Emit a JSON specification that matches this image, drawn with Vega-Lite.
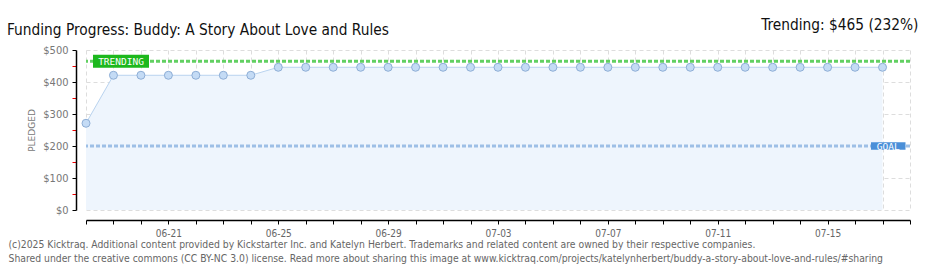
{
  "$schema": "https://vega.github.io/schema/vega-lite/v6.json",
  "width": 824,
  "height": 160,
  "autosize": {"type": "none"},
  "padding": {"left": 86, "top": 50, "right": 30, "bottom": 60},
  "background": "#ffffff",
  "title": {
    "text": "Funding Progress: Buddy: A Story About Love and Rules",
    "anchor": "start",
    "frame": "group",
    "dx": -79,
    "dy": 25,
    "font": "DejaVu Sans Condensed",
    "fontSize": 15.3,
    "fontWeight": "normal",
    "color": "#111111"
  },
  "config": {
    "view": {"stroke": null},
    "font": "DejaVu Sans Condensed"
  },
  "resolve": {"axis": {"y": "independent"}},
  "layer": [
    {
      "data": {"name": "pledges"},
      "mark": {"type": "area", "color": "#eef5fd", "opacity": 1},
      "encoding": {
        "x": {
          "field": "date", "type": "temporal",
          "scale": {"type": "utc", "domain": [{"year": 2025, "month": "June", "date": 18, "utc": true}, {"year": 2025, "month": "July", "date": 18, "utc": true}]},
          "axis": {
            "orient": "bottom", "offset": 10,
            "tickCount": {"interval": "day", "step": 1},
            "labelExpr": "indexof([3,7,11,15,21,25,29], utcdate(datum.value)) >= 0 ? utcFormat(datum.value, '%m-%d') : ''",
            "labelFont": "DejaVu Sans Condensed", "labelFontSize": 10, "labelColor": "#666666",
            "labelPadding": 4, "labelOverlap": false,
            "domainColor": "#000000", "domainWidth": 1.5, "tickColor": "#000000", "tickSize": 4,
            "grid": true, "gridColor": "#dddddd", "gridDash": [4, 3],
            "title": ["(c)2025 Kicktraq. Additional content provided by Kickstarter Inc. and Katelyn Herbert. Trademarks and related content are owned by their respective companies.", "Shared under the creative commons (CC BY-NC 3.0) license. Read more about sharing this image at www.kicktraq.com/projects/katelynherbert/buddy-a-story-about-love-and-rules/#sharing"],
            "titleAnchor": "start", "titleAlign": "left", "titleBaseline": "alphabetic",
            "titleX": -78, "titleY": 27, "titleLineHeight": 14,
            "titleFont": "DejaVu Sans Condensed", "titleFontSize": 10.3, "titleFontWeight": "normal", "titleColor": "#666666"
          }
        },
        "y": {
          "field": "pledged", "type": "quantitative",
          "scale": {"domain": [0, 500], "nice": false},
          "axis": {
            "orient": "left", "offset": 10,
            "values": [0, 50, 100, 150, 200, 250, 300, 350, 400, 450, 500],
            "labelExpr": "datum.value % 100 === 0 ? '$' + datum.value : ''",
            "labelFont": "DejaVu Sans Condensed", "labelFontSize": 11, "labelColor": "#777777", "labelPadding": 4,
            "domainColor": "#000000", "domainWidth": 1.5, "tickSize": 4,
            "tickColor": {"condition": {"test": "datum.value % 100 !== 0", "value": "#ee0000"}, "value": "#000000"},
            "grid": true, "gridColor": "#dddddd", "gridDash": [4, 3],
            "gridOpacity": {"condition": {"test": "datum.value % 100 !== 0", "value": 0}, "value": 1},
            "title": "PLEDGED", "titleFont": "DejaVu Sans", "titleFontSize": 9, "titleFontWeight": "normal", "titleColor": "#777777", "titlePadding": 6
          }
        }
      }
    },
    {
      "data": {"name": "pledges"},
      "mark": {"type": "line", "color": "#b9d3ef", "strokeWidth": 1},
      "encoding": {
        "x": {"field": "date", "type": "temporal"},
        "y": {"field": "pledged", "type": "quantitative", "axis": null}
      }
    },
    {
      "data": {"name": "pledges"},
      "mark": {"type": "point", "filled": true, "shape": "circle", "size": 64, "fill": "#c4dbf5", "stroke": "#8eaed6", "strokeWidth": 1, "opacity": 1},
      "encoding": {
        "x": {"field": "date", "type": "temporal"},
        "y": {"field": "pledged", "type": "quantitative", "axis": null}
      }
    },
    {
      "data": {"values": [{"goal": 200}]},
      "mark": {"type": "rule", "color": "#9dbfe6", "strokeWidth": 3, "strokeDash": [4, 2]},
      "encoding": {
        "y": {"field": "goal", "type": "quantitative", "axis": null}
      }
    },
    {
      "data": {"values": [{"trending": 465}]},
      "mark": {"type": "rule", "color": "#62d062", "strokeWidth": 3, "strokeDash": [4, 2]},
      "encoding": {
        "y": {
          "field": "trending", "type": "quantitative",
          "axis": {
            "orient": "right", "domain": false, "ticks": false, "labels": false, "grid": false,
            "title": "Trending: $465 (232%)", "titleAngle": 0, "titleAlign": "right", "titleBaseline": "alphabetic",
            "titleX": 8, "titleY": -21,
            "titleFont": "DejaVu Sans Condensed", "titleFontSize": 15.3, "titleFontWeight": "normal", "titleColor": "#111111"
          }
        }
      }
    },
    {
      "data": {"name": "labels"},
      "mark": {"type": "point", "filled": true, "opacity": 1, "strokeWidth": 0},
      "encoding": {
        "x": {"field": "date", "type": "temporal"},
        "y": {"field": "value", "type": "quantitative", "axis": null},
        "shape": {"field": "label", "type": "nominal", "scale": {"domain": ["TRENDING", "GOAL"], "range": ["M-1,-0.232L1,-0.232L1,0.232L-1,0.232Z", "M-1,-0.22L1,-0.22L1,0.22L-1,0.22Z"]}, "legend": null},
        "size": {"field": "label", "type": "nominal", "scale": {"domain": ["TRENDING", "GOAL"], "range": [3136, 1190]}, "legend": null},
        "color": {"field": "label", "type": "nominal", "scale": {"domain": ["TRENDING", "GOAL"], "range": ["#1db81d", "#4a8fd8"]}, "legend": null}
      }
    },
    {
      "data": {"name": "labels"},
      "mark": {"type": "text", "color": "#ffffff", "font": "DejaVu Sans Mono", "fontSize": 9.5, "baseline": "middle", "align": "center", "dy": 0.5},
      "encoding": {
        "x": {"field": "date", "type": "temporal"},
        "y": {"field": "value", "type": "quantitative", "axis": null},
        "text": {"field": "label", "type": "nominal"}
      }
    }
  ],
  "datasets": {
    "pledges": [
      {"date": "2025-06-18", "pledged": 271},
      {"date": "2025-06-19", "pledged": 421},
      {"date": "2025-06-20", "pledged": 421},
      {"date": "2025-06-21", "pledged": 421},
      {"date": "2025-06-22", "pledged": 421},
      {"date": "2025-06-23", "pledged": 421},
      {"date": "2025-06-24", "pledged": 421},
      {"date": "2025-06-25", "pledged": 446},
      {"date": "2025-06-26", "pledged": 446},
      {"date": "2025-06-27", "pledged": 446},
      {"date": "2025-06-28", "pledged": 446},
      {"date": "2025-06-29", "pledged": 446},
      {"date": "2025-06-30", "pledged": 446},
      {"date": "2025-07-01", "pledged": 446},
      {"date": "2025-07-02", "pledged": 446},
      {"date": "2025-07-03", "pledged": 446},
      {"date": "2025-07-04", "pledged": 446},
      {"date": "2025-07-05", "pledged": 446},
      {"date": "2025-07-06", "pledged": 446},
      {"date": "2025-07-07", "pledged": 446},
      {"date": "2025-07-08", "pledged": 446},
      {"date": "2025-07-09", "pledged": 446},
      {"date": "2025-07-10", "pledged": 446},
      {"date": "2025-07-11", "pledged": 446},
      {"date": "2025-07-12", "pledged": 446},
      {"date": "2025-07-13", "pledged": 446},
      {"date": "2025-07-14", "pledged": 446},
      {"date": "2025-07-15", "pledged": 446},
      {"date": "2025-07-16", "pledged": 446},
      {"date": "2025-07-17", "pledged": 446}
    ],
    "labels": [
      {"label": "TRENDING", "date": "2025-06-19T06:35:00Z", "value": 465},
      {"label": "GOAL", "date": "2025-07-17T05:00:00Z", "value": 200}
    ]
  }
}
